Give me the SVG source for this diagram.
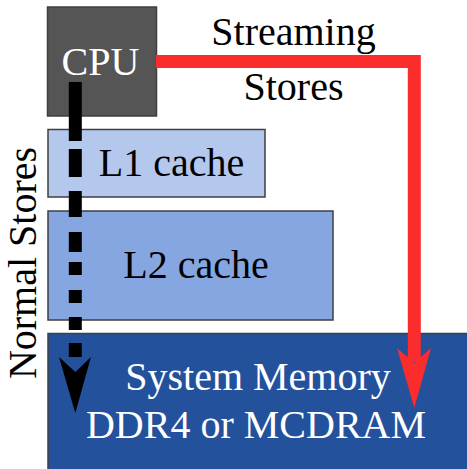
<svg xmlns="http://www.w3.org/2000/svg" width="467" height="469" viewBox="0 0 467 469">
<style>
.box{stroke:#3f3f3f;stroke-width:1.5}
text{font-family:'Liberation Serif',serif;font-size:40px;text-anchor:middle}
.w{fill:#ffffff}
.k{fill:#000000}
</style>
<rect width="467" height="469" fill="#ffffff"/>
<g id="memory">
<rect class="box" x="48" y="333.5" width="425" height="145" fill="#23519c"/>
<text class="w" x="258" y="390">System Memory</text>
<text class="w" x="256" y="438">DDR4 or MCDRAM</text>
</g>
<g id="l2">
<rect class="box" x="48" y="211" width="285" height="109" fill="#85a6e0"/>
<text class="k" x="196" y="278">L2 cache</text>
</g>
<g id="l1">
<rect class="box" x="48" y="129.5" width="217" height="67.5" fill="#b4c8ed"/>
<text class="k" x="171.5" y="176">L1 cache</text>
</g>
<g id="cpu">
<rect class="box" x="47.5" y="7" width="109" height="109" fill="#555555"/>
<text class="w" x="100.5" y="75" font-size="39">CPU</text>
</g>
<g id="connectors">
<path d="M156,61.5 H414.3 V362" fill="none" stroke="#fb2c2c" stroke-width="13" stroke-linejoin="miter"/>
<polygon points="397,348 414.3,363 431,348 414.3,408" fill="#fb2c2c"/>
<line x1="75.3" y1="82" x2="75.3" y2="357" stroke="#000000" stroke-width="13" stroke-dasharray="59 8 28 14 26 15 20 10 13 15 13 14 13 13 14"/>
<polygon points="59,357 75.3,372 91,357 75.3,413" fill="#000000"/>
<text class="k" x="293.5" y="45">Streaming</text>
<text class="k" x="293.5" y="100">Stores</text>
<text class="k" transform="translate(36,263) rotate(-90)" x="0" y="0">Normal Stores</text>
</g>
</svg>
